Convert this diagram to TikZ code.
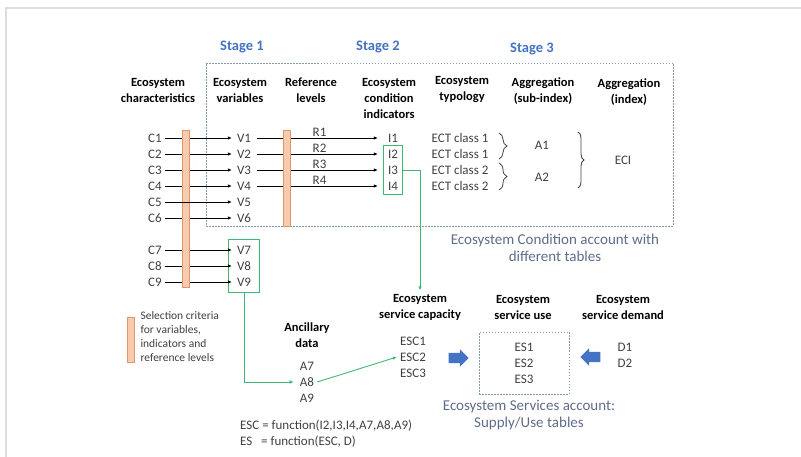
\documentclass[tikz,border=0pt]{standalone}
\usepackage{fontspec}
\setmainfont{Carlito}
\usetikzlibrary{shapes,arrows}
\usetikzlibrary{arrows.meta}
\usetikzlibrary{fit,decorations.pathreplacing}
\definecolor{stageblue}{RGB}{68,114,196}
\definecolor{barfill}{RGB}{248,203,173}
\definecolor{bardraw}{RGB}{222,150,112}
\definecolor{linkgreen}{RGB}{60,185,115}
\definecolor{boxgray}{RGB}{132,151,176}
\definecolor{captiongray}{RGB}{95,108,138}
\definecolor{bodygray}{RGB}{64,64,64}
\definecolor{framegray}{RGB}{222,222,218}
\tikzstyle{line} = [draw, -{Latex[length=4pt,width=3.5pt]}, line width=0.8pt]
\tikzstyle{greenline} = [draw=linkgreen, -{Latex[length=4pt,width=3.5pt]}, line width=0.9pt]
\tikzstyle{item} = [text=bodygray, font=\fontsize{13}{16}\selectfont, inner sep=3pt]
\tikzstyle{head} = [align=center, font=\bfseries\fontsize{12.5}{16}\selectfont]
\tikzstyle{stage} = [text=stageblue, font=\bfseries\fontsize{14.5}{17}\selectfont]
\tikzstyle{caption} = [align=center, text=captiongray, font=\fontsize{15}{17}\selectfont]
\tikzstyle{bar} = [draw=bardraw, fill=barfill, line width=0.8pt]
\tikzstyle{dashbox} = [draw=boxgray, dash pattern=on 1.5pt off 1.5pt, line width=0.8pt]
\tikzstyle{greenbox} = [draw=linkgreen, line width=0.9pt]
\tikzstyle{ectbrace} = [draw=bodygray, line width=0.8pt, decorate]
\tikzstyle{blockarrow} = [single arrow, fill=stageblue, minimum height=20pt, inner xsep=0pt, inner ysep=5pt, single arrow head extend=3.5pt]

\begin{document}
\begin{tikzpicture}[x=1pt, y=-1pt]
    \useasboundingbox (0,0) rectangle (801,457);
    \draw[framegray, line width=1.5pt] (6,457) -- (6,8) -- (801,8);

    % stages and condition account
    \node[stage] (st1) at (242, 47) {Stage 1};
    \node[stage] (st2) at (378, 47) {Stage 2};
    \node[stage] (st3) at (532, 49) {Stage 3};
    \node[dashbox, minimum width=467pt, minimum height=163pt] (cabox) at (439.5, 144.5) {};

    \node[head] (hc) at (158, 90) {Ecosystem\\characteristics};
    \node[head] (hv) at (240, 90) {Ecosystem\\variables};
    \node[head] (hr) at (311, 90) {Reference\\levels};
    \node[head] (hi) at (389, 98) {Ecosystem\\condition\\indicators};
    \node[head] (ht) at (462, 90) {Ecosystem\\typology};
    \node[head] (hs) at (543, 91) {Aggregation\\(sub-index)};
    \node[head] (hx) at (629, 92) {Aggregation\\(index)};

    \node[item] (c1) at (155, 138) {C1};
    \node[item] (c2) at (155, 154) {C2};
    \node[item] (c3) at (155, 170) {C3};
    \node[item] (c4) at (155, 186) {C4};
    \node[item] (c5) at (155, 202) {C5};
    \node[item] (c6) at (155, 218) {C6};
    \node[item] (c7) at (155, 250) {C7};
    \node[item] (c8) at (155, 266) {C8};
    \node[item] (c9) at (155, 282) {C9};

    \node[item] (v1) at (244, 138) {V1};
    \node[item] (v2) at (244, 154) {V2};
    \node[item] (v3) at (244, 170) {V3};
    \node[item] (v4) at (244, 186) {V4};
    \node[item] (v5) at (244, 202) {V5};
    \node[item] (v6) at (244, 218) {V6};
    \node[item] (v7) at (244, 250) {V7};
    \node[item] (v8) at (244, 266) {V8};
    \node[item] (v9) at (244, 282) {V9};

    \node[item] (i1) at (393, 138) {I1};
    \node[item] (i2) at (393, 154) {I2};
    \node[item] (i3) at (393, 170) {I3};
    \node[item] (i4) at (393, 186) {I4};

    \node[item] (e1) at (460, 138) {ECT class 1};
    \node[item] (e2) at (460, 154) {ECT class 1};
    \node[item] (e3) at (460, 170) {ECT class 2};
    \node[item] (e4) at (460, 186) {ECT class 2};

    \node[item] (a1) at (542, 145) {A1};
    \node[item] (a2) at (542, 177) {A2};
    \node[item] (eci) at (623, 160) {ECI};

    \draw[ectbrace, decoration={brace, amplitude=8pt}] (499, 133) -- (499, 159);
    \draw[ectbrace, decoration={brace, amplitude=8pt}] (499, 163) -- (499, 190);
    \draw[ectbrace, decoration={brace, amplitude=6pt}] (578, 132) -- (578, 188);

    \node[greenbox, fit=(i2)(i4), inner xsep=1.5pt, inner ysep=1pt] (ibox) {};
    \node[greenbox, fit=(v7)(v9), inner xsep=5pt, inner ysep=3pt] (vbox) {};

    \path [line, shorten >=2pt] (c1) -- (v1);
    \path [line, shorten >=2pt] (c2) -- (v2);
    \path [line, shorten >=2pt] (c3) -- (v3);
    \path [line, shorten >=2pt] (c4) -- (v4);
    \path [line, shorten >=2pt] (c6) -- (v6);
    \path [line, shorten >=2pt] (c7) -- (v7);
    \path [line, shorten >=2pt] (c8) -- (v8);
    \path [line, shorten >=2pt] (c9) -- (v9);

    \path [line, shorten <=3pt, shorten >=7pt] (v1) -- node[item, above, inner sep=1pt] {R1} (i1);
    \path [line, shorten <=3pt, shorten >=7pt] (v2) -- node[item, above, inner sep=1pt] {R2} (i2);
    \path [line, shorten <=3pt, shorten >=7pt] (v3) -- node[item, above, inner sep=1pt] {R3} (i3);
    \path [line, shorten <=3pt, shorten >=7pt] (v4) -- node[item, above, inner sep=1pt] {R4} (i4);

    % selection criteria
    \draw[bar] (182, 130) rectangle (189, 287);
    \draw[bar] (283, 130) rectangle (290, 226);
    \path [line, shorten >=2pt] (c5) -- (v5);

    \node[caption] (cap1) at (555, 248) {Ecosystem Condition account with\\different tables};

    % services account
    \node[head] (hanc) at (307, 335) {Ancillary\\data};
    \node[item] (a7) at (307, 366) {A7};
    \node[item] (a8) at (307, 382) {A8};
    \node[item] (a9) at (307, 398) {A9};

    \node[head] (hesc) at (420, 307) {Ecosystem\\service capacity};
    \node[head] (hesu) at (523, 307) {Ecosystem\\service use};
    \node[head] (hesd) at (623, 307) {Ecosystem\\service demand};

    \node[item] (esc1) at (413, 341) {ESC1};
    \node[item] (esc2) at (413, 357) {ESC2};
    \node[item] (esc3) at (413, 373) {ESC3};

    \node[dashbox, minimum width=90pt, minimum height=62pt] (esbox) at (524, 363) {};
    \node[item] (es1) at (524, 347) {ES1};
    \node[item] (es2) at (524, 363) {ES2};
    \node[item] (es3) at (524, 379) {ES3};

    \node[item] (d1) at (625, 347) {D1};
    \node[item] (d2) at (625, 363) {D2};

    \node[blockarrow] (sup) at (456, 358) {};
    \node[blockarrow, shape border rotate=180] (dem) at (593, 357) {};

    \node[caption] (cap2) at (529, 415) {Ecosystem Services account:\\Supply/Use tables};

    \path [greenline] (i3 -| ibox.east) -| (hesc.north);
    \path [greenline, shorten >=3pt] (vbox.south) |- (a8.west);
    \path [greenline] (a8.east) -- (esc2.west);

    \node[item, align=left, anchor=west, inner sep=0pt] (fx) at (240, 434) {ESC = function(I2,I3,I4,A7,A8,A9)\\ES\ \ \ = function(ESC, D)};

    % legend
    \draw[bar] (127, 317) rectangle (134, 362);
    \node[align=left, anchor=west, text=bodygray, font=\fontsize{11.5}{14}\selectfont] (legend) at (137, 337) {Selection criteria\\for variables,\\indicators and\\reference levels};

  \end{tikzpicture}
\end{document}
